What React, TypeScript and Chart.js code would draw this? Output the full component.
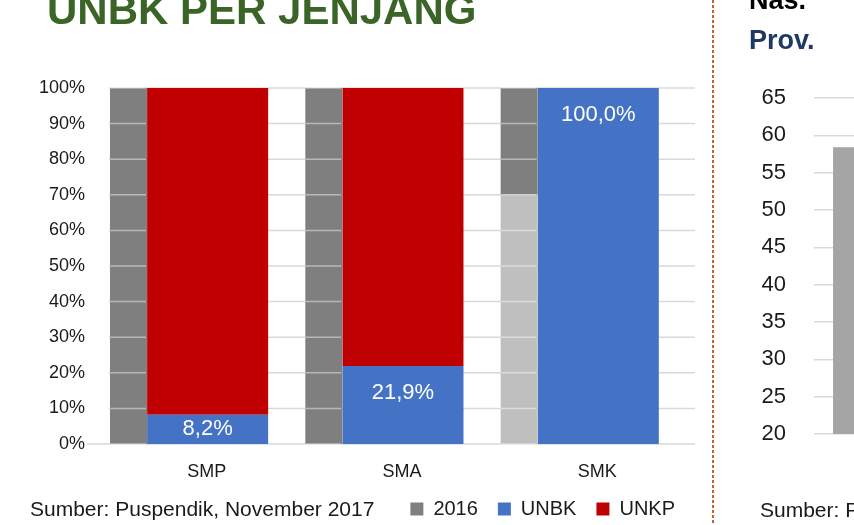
import { useEffect, useRef } from 'react';
import { Chart, registerables } from 'chart.js';

Chart.register(...registerables);

// ---- data ----
const categories = ['SMP', 'SMA', 'SMK'];
const unbk2016 = [0, 0, 70];
const unkp2016 = [100, 100, 30];
const unbk2017 = [8.2, 21.9, 100];
const unkp2017 = [91.8, 78.1, 0];
const legendLabels = ['2016', 'UNBK', 'UNKP'];
const yMax = 100;
const yStep = 10;

const rightCategories = ['Nas.'];
const rightValues = [58.4];
const rightMin = 20;
const rightMax = 65;
const rightStep = 5;

const titleText = 'UNBK PER JENJANG';
const sourceText = 'Sumber: Puspendik, November 2017';
const rightLine1 = 'Nas.';
const rightLine2 = 'Prov.';
const rightSource = 'Sumber: Puspendik';

// ---- styles ----
const FONT = "'Liberation Sans', Arial, sans-serif";
const C_DARKGREY = '#7f7f7f';
const C_LIGHTGREY = '#bfbfbf';
const C_BLUE = '#4472c4';
const C_RED = '#c00000';
const C_GRID = '#d9d9d9';
const C_TEXT = '#1a1a1a';

// bar geometry (two stacks per category: narrow 2016 bar left, wide 2017 bar centred)
const GREY_CAT = 1.6008;
const GREY_BAR = 0.2367;
const MAIN_CAT = 0.02;
const MAIN_BAR = 61.95;

const gridPlugin = {
  id: 'customGrid',
  beforeDatasetsDraw(chart: any) {
    const { ctx, chartArea, scales } = chart;
    const y = scales.y;
    ctx.save();
    ctx.strokeStyle = C_GRID;
    ctx.lineWidth = 1.5;
    y.ticks.forEach((t: any) => {
      const py = y.getPixelForValue(t.value);
      const x0 = t.value === 0 ? chartArea.left - 22 : chartArea.left;
      ctx.beginPath();
      ctx.moveTo(x0, py);
      ctx.lineTo(chartArea.right, py);
      ctx.stroke();
    });
    ctx.restore();
  },
  afterDatasetsDraw(chart: any) {
    const { ctx, scales } = chart;
    const y = scales.y;
    const gi = chart.data.datasets.findIndex((d: any) => d.stack === 'g2016');
    const meta = chart.getDatasetMeta(gi);
    ctx.save();
    ctx.strokeStyle = 'rgba(255,255,255,0.45)';
    ctx.lineWidth = 1.5;
    meta.data.forEach((el: any) => {
      const { x, width } = el.getProps(['x', 'width'], true);
      y.ticks.forEach((t: any) => {
        const py = y.getPixelForValue(t.value);
        ctx.beginPath();
        ctx.moveTo(x - width / 2, py);
        ctx.lineTo(x + width / 2 - 1, py);
        ctx.stroke();
      });
    });
    ctx.restore();

    // value labels on UNBK bars
    const bi = chart.data.datasets.findIndex((d: any) => d.label === 'UNBK');
    const bmeta = chart.getDatasetMeta(bi);
    ctx.save();
    ctx.fillStyle = '#ffffff';
    ctx.font = `22px ${FONT}`;
    ctx.textAlign = 'center';
    ctx.textBaseline = 'middle';
    bmeta.data.forEach((el: any, i: number) => {
      const { x, y: top, base } = el.getProps(['x', 'y', 'base'], true);
      const cy = Math.min(top + 27, (top + base) / 2);
      ctx.fillText(unbk2017[i].toFixed(1).replace('.', ',') + '%', x, cy);
    });
    ctx.restore();
  },
};

function App() {
  const leftRef = useRef<HTMLCanvasElement>(null);
  const rightRef = useRef<HTMLCanvasElement>(null);

  useEffect(() => {
    Chart.defaults.font.family = FONT;
    const left = new Chart(leftRef.current!, {
      type: 'bar',
      data: {
        labels: categories,
        datasets: [
          {
            label: '2016 UNBK',
            data: unbk2016,
            backgroundColor: C_LIGHTGREY,
            stack: 'g2016',
            categoryPercentage: GREY_CAT,
            barPercentage: GREY_BAR,
          },
          {
            label: '2016 UNKP',
            data: unkp2016,
            backgroundColor: C_DARKGREY,
            stack: 'g2016',
            categoryPercentage: GREY_CAT,
            barPercentage: GREY_BAR,
          },
          {
            label: 'UNBK',
            data: unbk2017,
            backgroundColor: C_BLUE,
            stack: 's2017',
            categoryPercentage: MAIN_CAT,
            barPercentage: MAIN_BAR,
          },
          {
            label: 'UNKP',
            data: unkp2017,
            backgroundColor: C_RED,
            stack: 's2017',
            categoryPercentage: MAIN_CAT,
            barPercentage: MAIN_BAR,
          },
        ] as any,
      },
      options: {
        animation: false,
        responsive: false,
        maintainAspectRatio: false,
        layout: { padding: { top: 88, left: 0, right: 17, bottom: 1 } },
        plugins: {
          tooltip: { enabled: false },
          legend: {
            position: 'bottom',
            align: 'end',
            labels: {
              font: { size: 20, family: FONT },
              color: C_TEXT,
              boxWidth: 13,
              boxHeight: 13,
              padding: 20,
              generateLabels: () => {
                const cols = [C_DARKGREY, C_BLUE, C_RED];
                return legendLabels.map((t, i) => ({
                  text: t,
                  fillStyle: cols[i],
                  strokeStyle: cols[i],
                  lineWidth: 0,
                  hidden: false,
                  datasetIndex: i,
                  fontColor: C_TEXT,
                }));
              },
            },
          },
        },
        scales: {
          x: {
            type: 'category',
            stacked: true,
            grid: { display: false, drawTicks: false },
            border: { display: false },
            ticks: { font: { size: 18, family: FONT }, color: C_TEXT, padding: 17 },
            afterFit: (s: any) => { s.height = 35; },
          },
          y: {
            stacked: true,
            min: 0,
            max: yMax,
            grid: { display: false, drawTicks: false },
            border: { display: false },
            ticks: {
              stepSize: yStep,
              font: { size: 18, family: FONT },
              color: C_TEXT,
              padding: 24,
              callback: (v: any) => v + '%',
            },
            afterFit: (s: any) => { s.width = 109; },
          },
        },
      } as any,
      plugins: [gridPlugin],
    });

    const right = new Chart(rightRef.current!, {
      type: 'bar',
      data: {
        labels: rightCategories,
        datasets: [
          {
            data: rightValues,
            backgroundColor: '#a5a5a5',
            categoryPercentage: 1,
            barPercentage: 0.815,
          },
        ],
      },
      options: {
        animation: false,
        responsive: false,
        maintainAspectRatio: false,
        layout: { padding: { top: 98, bottom: 91, left: 0, right: 0 } },
        plugins: { legend: { display: false }, tooltip: { enabled: false } },
        scales: {
          x: { display: false },
          y: {
            min: rightMin,
            max: rightMax,
            grid: { color: C_GRID, lineWidth: 1.5, drawTicks: false },
            border: { display: false },
            ticks: {
              stepSize: rightStep,
              font: { size: 22, family: FONT },
              color: C_TEXT,
              padding: 28,
            },
            afterFit: (s: any) => { s.width = 94; },
          },
        },
      } as any,
    });

    return () => {
      left.destroy();
      right.destroy();
    };
  }, []);

  const abs = (o: any) => ({ position: 'absolute', whiteSpace: 'nowrap', lineHeight: 1, fontFamily: FONT, ...o });

  return (
    <div style={{ position: 'absolute', left: 0, top: 0, width: 854, height: 525, overflow: 'hidden', background: '#fff' }}>
      <canvas ref={leftRef} width={712} height={530} style={{ position: 'absolute', left: 0, top: 0, width: 712, height: 530 }} />
      <canvas ref={rightRef} width={300} height={525} style={{ position: 'absolute', left: 720, top: 0, width: 300, height: 525 }} />
      <div style={abs({ left: 47, top: -10.6, fontSize: 42, fontWeight: 'bold', color: '#3b6427' })}>{titleText}</div>
      <div style={abs({ left: 30, top: 498, fontSize: 21, color: C_TEXT })}>{sourceText}</div>
      <div
        style={{
          position: 'absolute',
          left: 712,
          top: 0,
          width: 2,
          height: 525,
          background: 'repeating-linear-gradient(to bottom, #c0662e 0px, #c0662e 3px, transparent 3px, transparent 5px)',
        }}
      />
      <div style={abs({ left: 749, top: -12.9, fontSize: 27, fontWeight: 'bold', color: '#000' })}>{rightLine1}</div>
      <div style={abs({ left: 749, top: 27.1, fontSize: 27, fontWeight: 'bold', color: '#1f3864' })}>{rightLine2}</div>
      <div style={abs({ left: 760, top: 499, fontSize: 21, color: C_TEXT })}>{rightSource}</div>
    </div>
  );
}

export default App;
